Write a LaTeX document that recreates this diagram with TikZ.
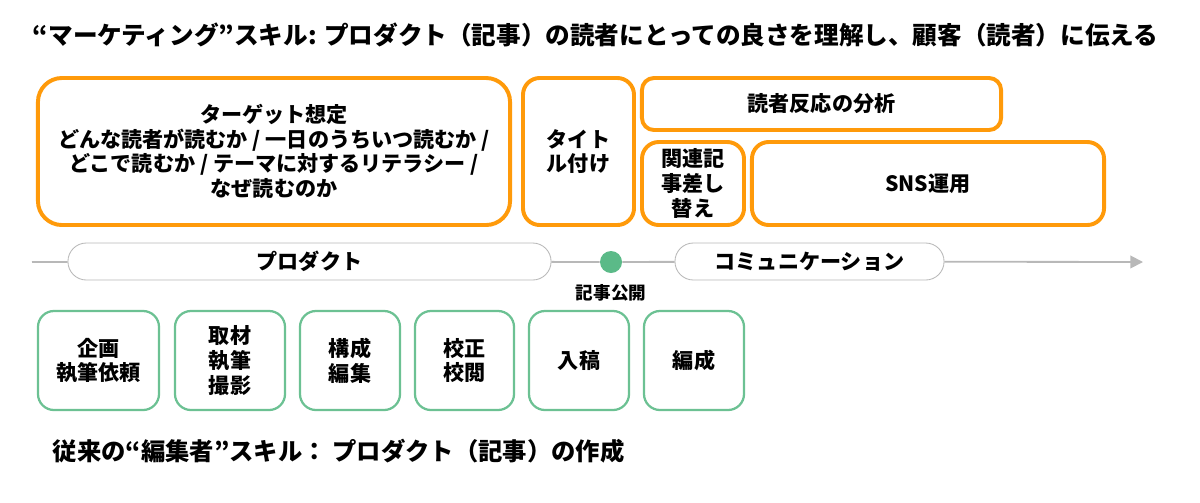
\documentclass[tikz,border=0pt]{standalone}
\usepackage{fontspec}
\setmainfont{Noto Sans CJK JP}
\usepackage{tikz}
\usetikzlibrary{arrows.meta}
\definecolor{skillorange}{HTML}{FF9A0A}
\definecolor{skillgreen}{HTML}{6CC193}
\definecolor{dotgreen}{HTML}{5BBA88}
\definecolor{lineg}{HTML}{B8B8B8}

\begin{document}
\begin{tikzpicture}[x=0.025cm,y=-0.025cm]
\tikzstyle{every node}=[align=center,font=\fontsize{15}{17.5}\selectfont\bfseries];
\tikzstyle{mkt}=[draw=skillorange,line width=2.8pt,rounded corners=0.42cm,inner sep=0pt];
\tikzstyle{edit}=[draw=skillgreen,line width=1.6pt,rounded corners=0.4cm,inner sep=0pt,minimum height=2.475cm];
\tikzstyle{phase}=[draw=lineg,line width=0.6pt,fill=white,rounded corners=0.46cm,minimum height=0.925cm,inner sep=0pt];
\tikzstyle{axis}=[draw=lineg,line width=1.3pt];
\useasboundingbox (0,0) rectangle (1200,502);
% titles
    \node[anchor=west,font=\fontsize{17.5}{20}\selectfont\bfseries] (toptitle) at (28,35)
      {“マーケティング”スキル: プロダクト（記事）の読者にとっての良さを理解し、顧客（読者）に伝える};
    \node[anchor=west,font=\fontsize{17.3}{20}\selectfont\bfseries] (bottitle) at (48,451)
      {従来の“編集者”スキル： プロダクト（記事）の作成};
% marketing boxes
    \node[mkt,minimum width=11.8cm,minimum height=3.675cm,rounded corners=0.6cm] (target) at (274,151.5)
      {ターゲット想定\\どんな読者が読むか / 一日のうちいつ読むか /\\どこで読むか / テーマに対するリテラシー /\\なぜ読むのか};
    \node[mkt,minimum width=2.775cm,minimum height=3.675cm] (titling) at (578.5,151.5) {タイト\\ル付け};
    \node[mkt,minimum width=8.975cm,minimum height=1.3cm,rounded corners=0.3cm] (analysis) at (821.5,104) {読者反応の分析};
    \node[mkt,minimum width=2.55cm,minimum height=2.075cm] (relink) at (693,183.5) {関連記\\事差し\\替え};
    \node[mkt,minimum width=8.8cm,minimum height=2.075cm] (sns) at (928,183.5) {SNS運用};
% timeline
    \coordinate (start) at (32,262);
    \coordinate (end) at (1143,262);
    \node[phase,minimum width=12.075cm] (product) at (309.5,261.5) {プロダクト};
    \node[circle,fill=dotgreen,minimum size=0.55cm,inner sep=0pt] (publish) at (611,262) {};
    \node[font=\fontsize{12.5}{14}\selectfont\bfseries] (publabel) at (611,293) {記事公開};
    \node[phase,minimum width=6.725cm] (comm) at (809.5,261.5) {コミュニケーション};
    \draw[axis] (start) -- (product);
    \draw[axis] (product) -- (publish);
    \draw[axis] (publish) -- (comm);
    \draw[axis,-{Triangle[length=9pt,width=9pt]},lineg] (comm) -- (end);
% editing boxes
    \node[edit,minimum width=3.025cm] (plan) at (98.5,360.5) {企画\\執筆依頼};
    \node[edit,minimum width=2.75cm] (research) at (230,360.5) {取材\\執筆\\撮影};
    \node[edit,minimum width=2.5cm] (compose) at (350,360.5) {構成\\編集};
    \node[edit,minimum width=2.475cm] (proof) at (464.5,360.5) {校正\\校閲};
    \node[edit,minimum width=2.5cm] (submit) at (579,360.5) {入稿};
    \node[edit,minimum width=2.5cm] (layout) at (694,360.5) {編成};
\end{tikzpicture}
\end{document}
